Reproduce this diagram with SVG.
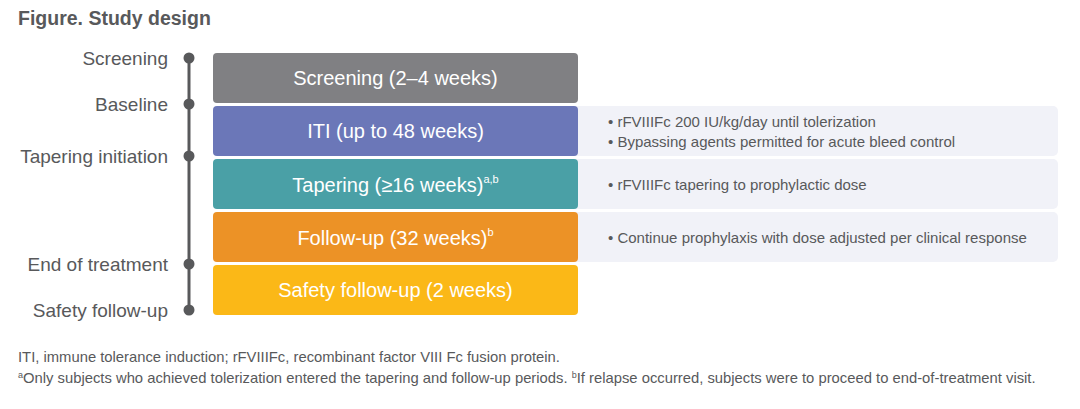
<svg xmlns="http://www.w3.org/2000/svg" width="1080" height="409" viewBox="0 0 1080 409">
<style>
text{font-family:"Liberation Sans",Arial,sans-serif}
.title{font-size:19.5px;font-weight:bold;fill:#58595b}
.lbl{font-size:19px;fill:#58595b;text-anchor:end;dominant-baseline:central}
.box{font-size:20px;fill:#fff;text-anchor:middle;dominant-baseline:central}
.sup{font-size:11px}
.bul{font-size:15px;fill:#58595b;dominant-baseline:central}
.foot{font-size:14.8px;fill:#58595b}
.fsup{font-size:9px}
.panel{fill:#f1f2f8}
.dot{fill:#58595b}
</style>
<rect width="1080" height="409" fill="#fff"/>
<text class="title" x="18" y="25">Figure. Study design</text>
<g id="panels">
<rect class="panel" x="570" y="106" width="488" height="50" rx="5"/>
<rect class="panel" x="570" y="159" width="488" height="50" rx="5"/>
<rect class="panel" x="570" y="212" width="488" height="50" rx="5"/>
</g>
<g id="connectors">
<line x1="189" y1="58" x2="189" y2="310" stroke="#58595b" stroke-width="3"/>
</g>
<g id="m-screening"><circle class="dot" cx="189" cy="58" r="5.5"/><text class="lbl" x="168" y="58">Screening</text></g>
<g id="m-baseline"><circle class="dot" cx="189" cy="104" r="5.5"/><text class="lbl" x="168" y="104">Baseline</text></g>
<g id="m-tapering"><circle class="dot" cx="189" cy="156" r="5.5"/><text class="lbl" x="168" y="156">Tapering initiation</text></g>
<g id="m-eot"><circle class="dot" cx="189" cy="264" r="5.5"/><text class="lbl" x="168" y="264">End of treatment</text></g>
<g id="m-safety"><circle class="dot" cx="189" cy="310" r="5.5"/><text class="lbl" x="168" y="310">Safety follow-up</text></g>
<g id="screening"><rect x="213" y="53" width="365" height="50" rx="4" fill="#808083"/><text class="box" x="395.5" y="78">Screening (2–4 weeks)</text></g>
<g id="iti"><rect x="213" y="106" width="365" height="50" rx="4" fill="#6b77b8"/><text class="box" x="395.5" y="131">ITI (up to 48 weeks)</text>
<text class="bul" x="608" y="121">• rFVIIIFc 200 IU/kg/day until tolerization</text>
<text class="bul" x="608" y="141">• Bypassing agents permitted for acute bleed control</text></g>
<g id="tapering"><rect x="213" y="159" width="365" height="50" rx="4" fill="#4aa0a6"/><text class="box" x="395.5" y="185">Tapering (≥16 weeks)<tspan class="sup" dy="-6">a,b</tspan></text>
<text class="bul" x="608" y="184">• rFVIIIFc tapering to prophylactic dose</text></g>
<g id="followup"><rect x="213" y="212" width="365" height="50" rx="4" fill="#ec9226"/><text class="box" x="395.5" y="238">Follow-up (32 weeks)<tspan class="sup" dy="-6">b</tspan></text>
<text class="bul" x="608" y="237">• Continue prophylaxis with dose adjusted per clinical response</text></g>
<g id="safety"><rect x="213" y="265" width="365" height="50" rx="4" fill="#fbb817"/><text class="box" x="395.5" y="290">Safety follow-up (2 weeks)</text></g>
<text class="foot" x="18" y="362">ITI, immune tolerance induction; rFVIIIFc, recombinant factor VIII Fc fusion protein.</text>
<text class="foot" x="18" y="383"><tspan class="fsup" dy="-5">a</tspan><tspan dy="5">Only subjects who achieved tolerization entered the tapering and follow-up periods. </tspan><tspan class="fsup" dy="-5">b</tspan><tspan dy="5">If relapse occurred, subjects were to proceed to end-of-treatment visit.</tspan></text>
</svg>
